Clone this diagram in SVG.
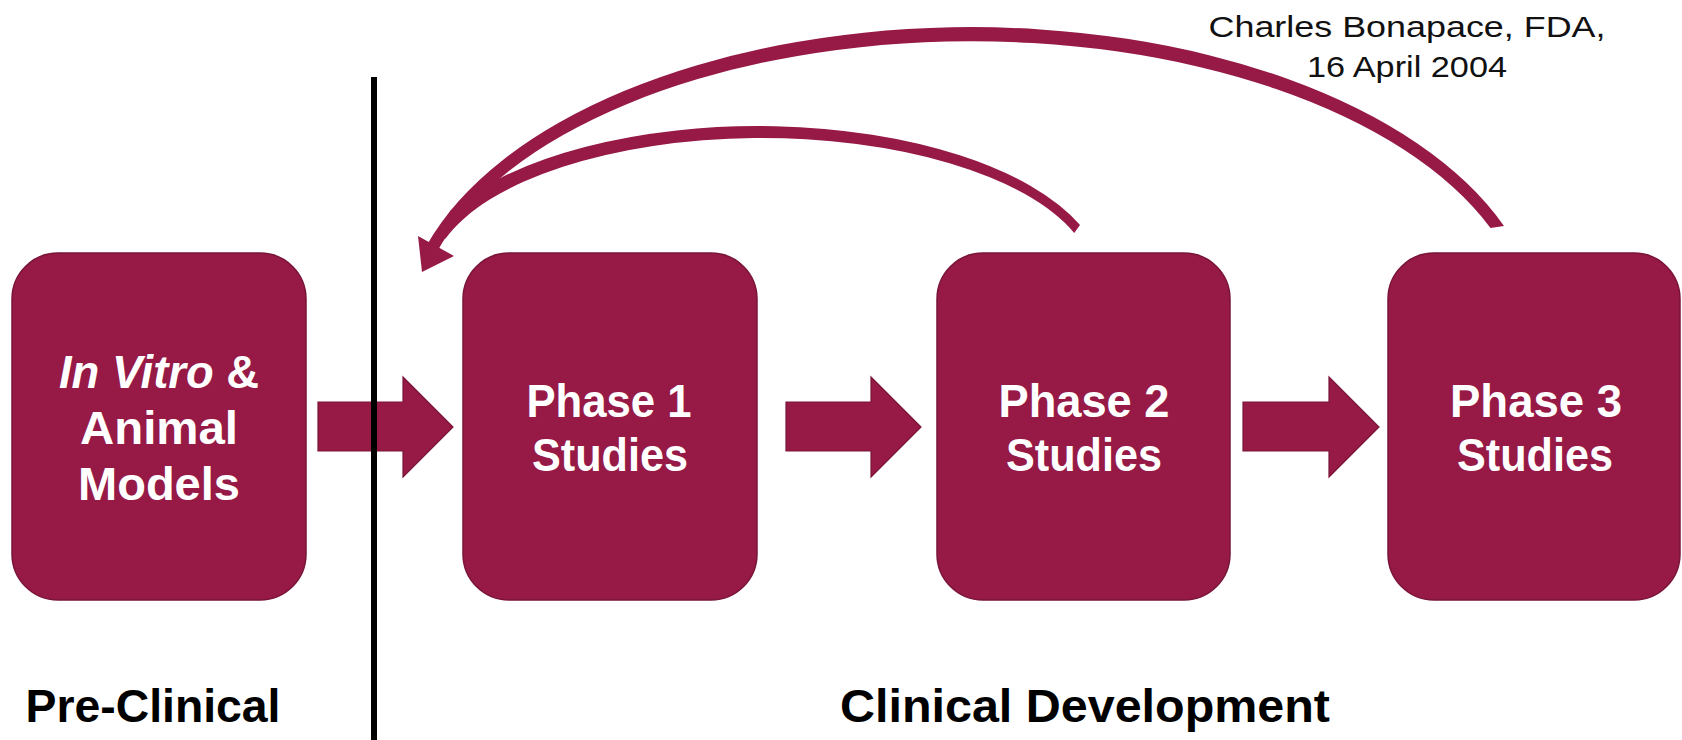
<svg xmlns="http://www.w3.org/2000/svg" width="1682" height="740" viewBox="0 0 1682 740">
  <style>
    .box { fill: #961946; stroke: #7a1439; stroke-width: 1.5; }
    .arrow { fill: #961946; stroke: #7a1439; stroke-width: 1.2; }
    .loop { fill: #961946; stroke: none; }
    .label { font-family: "Liberation Sans", Arial, sans-serif; font-weight: bold; font-size: 46px; fill: #ffffff; text-anchor: middle; }
    .section { font-family: "Liberation Sans", Arial, sans-serif; font-weight: bold; font-size: 47px; fill: #000000; text-anchor: middle; }
    .cite { font-family: "Liberation Sans", Arial, sans-serif; font-size: 30px; fill: #111111; text-anchor: middle; }
  </style>

  <g id="preclinical">
    <rect class="box" x="12" y="253" width="294" height="347" rx="46" ry="46"/>
    <text class="label" x="159" y="388" textLength="200" lengthAdjust="spacingAndGlyphs"><tspan font-style="italic">In Vitro</tspan> &amp;</text>
    <text class="label" x="159" y="444" textLength="158" lengthAdjust="spacingAndGlyphs">Animal</text>
    <text class="label" x="159" y="500" textLength="162" lengthAdjust="spacingAndGlyphs">Models</text>
  </g>

  <g id="phase1">
    <rect class="box" x="463" y="253" width="294" height="347" rx="46" ry="46"/>
    <text class="label" x="609" y="417" textLength="165" lengthAdjust="spacingAndGlyphs">Phase 1</text>
    <text class="label" x="610" y="471" textLength="156" lengthAdjust="spacingAndGlyphs">Studies</text>
  </g>

  <g id="phase2">
    <rect class="box" x="937" y="253" width="293" height="347" rx="46" ry="46"/>
    <text class="label" x="1084" y="417" textLength="171" lengthAdjust="spacingAndGlyphs">Phase 2</text>
    <text class="label" x="1084" y="471" textLength="156" lengthAdjust="spacingAndGlyphs">Studies</text>
  </g>

  <g id="phase3">
    <rect class="box" x="1388" y="253" width="292" height="347" rx="46" ry="46"/>
    <text class="label" x="1536" y="417" textLength="172" lengthAdjust="spacingAndGlyphs">Phase 3</text>
    <text class="label" x="1535" y="471" textLength="156" lengthAdjust="spacingAndGlyphs">Studies</text>
  </g>

  <g id="connectors">
    <!-- forward block arrows -->
    <polygon class="arrow" points="318,402 403,402 403,377 453,427 403,477 403,451 318,451"/>
    <polygon class="arrow" points="786,402 871,402 871,377 921,427 871,477 871,451 786,451"/>
    <polygon class="arrow" points="1243,402 1329,402 1329,377 1379,427 1329,477 1329,451 1243,451"/>

    <!-- feedback loop from Phase 3 back to Phase 1 -->
    <path class="loop" d="M1504,226 A569,307 0 0 0 426.4,246 L436.3,253 A557,293 0 0 1 1490.5,228 Z"/>
    <!-- feedback loop from Phase 2, joining the long loop -->
    <path class="loop" d="M1080,225 A346,156 0 0 0 450,210.9 L445,239.2 A332,144 0 0 1 1074.2,233 Z"/>
    <polygon class="loop" points="418,236 454,256 422,272"/>
  </g>

  <!-- boundary between pre-clinical and clinical work, drawn over the first arrow -->
  <line x1="374" y1="77" x2="374" y2="740" stroke="#000000" stroke-width="6"/>

  <g id="sections">
    <text class="section" x="153" y="722" textLength="255" lengthAdjust="spacingAndGlyphs">Pre-Clinical</text>
    <text class="section" x="1085" y="722" textLength="490" lengthAdjust="spacingAndGlyphs">Clinical Development</text>
  </g>

  <g id="citation">
    <text class="cite" x="1407" y="37" textLength="397" lengthAdjust="spacingAndGlyphs">Charles Bonapace, FDA,</text>
    <text class="cite" x="1407" y="77" textLength="200" lengthAdjust="spacingAndGlyphs">16 April 2004</text>
  </g>
</svg>
